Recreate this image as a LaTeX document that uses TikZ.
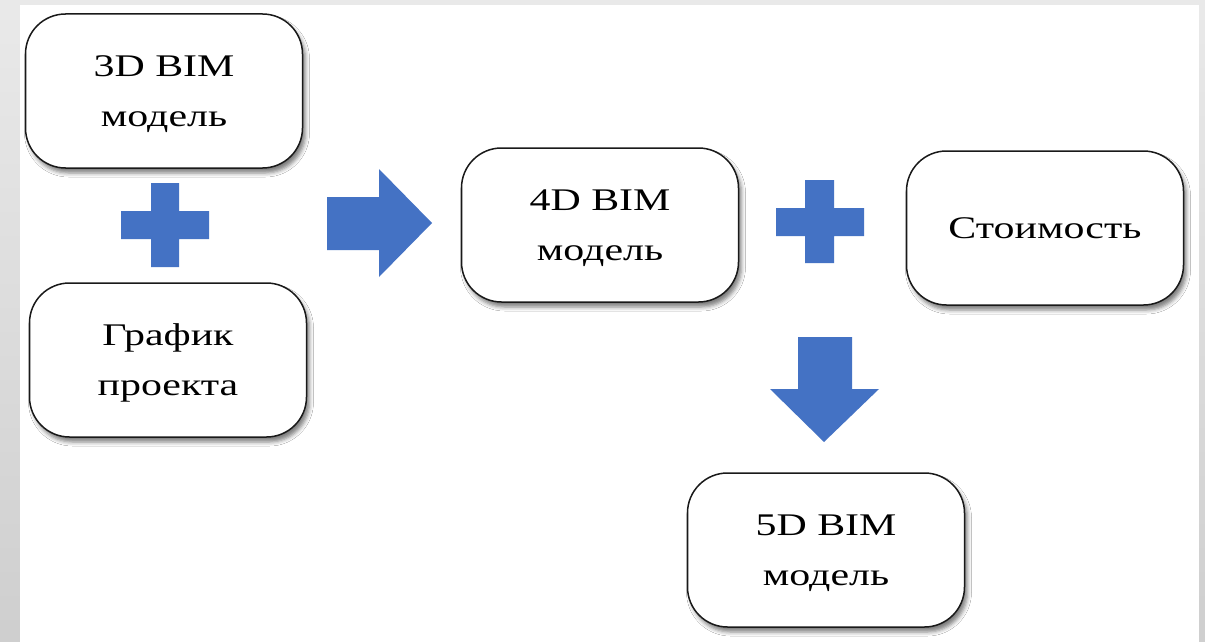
\documentclass[tikz,border=0pt]{standalone}
\usepackage{fontspec}
\setmainfont{Liberation Serif}
\usetikzlibrary{shadows.blur}
\definecolor{officeblue}{HTML}{4472C4}
\newcommand{\boxtext}[1]{\scalebox{1.33}[1]{\fontsize{31.5}{50}\selectfont\begin{tabular}{@{}c@{}}#1\end{tabular}}}
\tikzset{
  bimbox/.style={draw=black!90, line width=1.5pt, fill=white, rounded corners=40pt,
    minimum width=277pt, minimum height=154pt, inner sep=0pt, text=black,
    blur shadow={shadow xshift=3pt, shadow yshift=-5pt, shadow blur radius=4pt, shadow opacity=50}},
  blueshape/.style={fill=officeblue}
}
\begin{document}
\begin{tikzpicture}[x=1pt,y=-1pt]
\useasboundingbox (0,0) rectangle (1205,642);
\shade[top color=gray!17, bottom color=gray!38] (0,0) rectangle (1205,642);
\fill[white] (20,5) rectangle (1199,642);

% boxes
\node[bimbox] (m3d) at (164,91) {\raisebox{2pt}{\boxtext{3D BIM\\модель}}};
\node[bimbox] (plan) at (168,360) {\boxtext{График\\проекта}};
\node[bimbox] (m4d) at (600,225) {\boxtext{4D BIM\\модель}};
\node[bimbox] (cost) at (1045,228) {\raisebox{10pt}{\boxtext{Стоимость}}};
\node[bimbox] (m5d) at (826,550) {\boxtext{5D BIM\\модель}};

% plus signs
\fill[blueshape] (151,183) -- (179,183) -- (179,211) -- (209,211) -- (209,239) -- (179,239)
  -- (179,267) -- (151,267) -- (151,239) -- (121,239) -- (121,211) -- (151,211) -- cycle;
\fill[blueshape] (805,180) -- (834,180) -- (834,208) -- (864,208) -- (864,236) -- (834,236)
  -- (834,263) -- (805,263) -- (805,236) -- (776,236) -- (776,208) -- (805,208) -- cycle;

% right block arrow
\fill[blueshape] (327,197) -- (379,197) -- (379,169) -- (432,223) -- (379,277) -- (379,250)
  -- (327,250) -- cycle;
% down block arrow
\fill[blueshape] (798,337) -- (852,337) -- (852,389) -- (879,389) -- (824,442) -- (770,389)
  -- (798,389) -- cycle;
\end{tikzpicture}
\end{document}
